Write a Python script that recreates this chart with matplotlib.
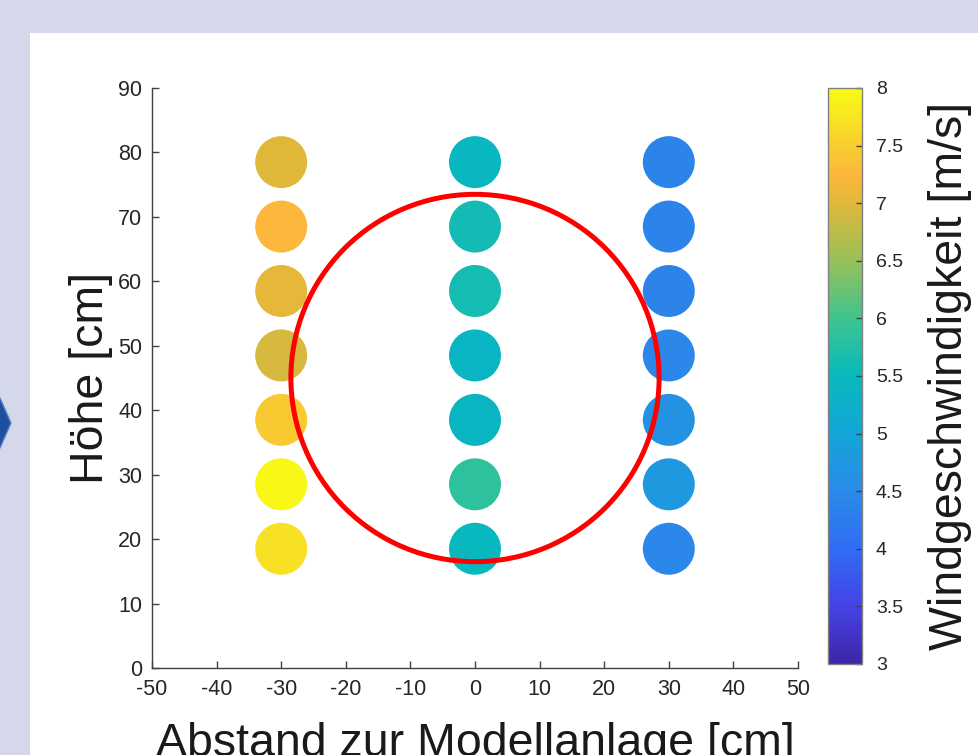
import numpy as np
import matplotlib
matplotlib.use("Agg")
import matplotlib.pyplot as plt
from matplotlib.colors import LinearSegmentedColormap, Normalize
from matplotlib.patches import Ellipse, Rectangle, Polygon

plt.rcParams['font.family'] = ['Liberation Sans', 'DejaVu Sans']
plt.rcParams['axes.unicode_minus'] = False

# measurement positions [cm] and wind speeds [m/s]
x_pos = [-30, 0, 30]
heights = [18.5, 28.5, 38.5, 48.5, 58.5, 68.5, 78.5]
speed_left = [7.7, 7.95, 7.45, 6.93, 7.05, 7.25, 7.0]
speed_mid = [5.48, 5.85, 5.4, 5.4, 5.62, 5.6, 5.45]
speed_right = [4.45, 4.75, 4.65, 4.45, 4.4, 4.4, 4.4]

# rotor circle (centre / radius in cm)
rotor_x, rotor_y, rotor_r = 0, 45, 28.5

x_ticks = np.arange(-50, 51, 10)
y_ticks = np.arange(0, 91, 10)
cb_ticks = np.arange(3, 8.01, 0.5)

# parula-like colormap
stops = [3.0, 3.5, 4.0, 4.5, 5.0, 5.5, 6.0, 6.5, 7.0, 7.25, 7.5, 8.0]
stop_cols = ['#3e26a8', '#4543e6', '#2f6df4', '#2b8ae9', '#13a6d6', '#07b9be',
             '#3ec48e', '#96c15a', '#dfb83a', '#fcb73c', '#f8cd30', '#f9fb14']
parula = LinearSegmentedColormap.from_list(
    'parula', list(zip([(s - 3) / 5 for s in stops], stop_cols)))
norm = Normalize(3, 8)

W, H = 979, 755
fig = plt.figure(figsize=(W / 100, H / 100), dpi=100)
fig.patch.set_facecolor('#d5d8eb')

# white slide panel + bit of the arrow at the left edge
fig.patches.append(Rectangle((30 / W, 0), 1, 1 - 33 / H, transform=fig.transFigure,
                             facecolor='white', edgecolor='none', zorder=-2))
fig.patches.append(Polygon([(-5 / W, 1 - 398 / H), (0 / W, 1 - 398 / H), (11 / W, 1 - 423 / H),
                            (0 / W, 1 - 448 / H), (-5 / W, 1 - 448 / H)],
                           transform=fig.transFigure, facecolor='#1f4f9e',
                           edgecolor='#5a86c8', lw=1, zorder=-2))

ax = fig.add_axes([152 / W, 1 - 668 / H, 646 / W, 580 / H])
ax.set_facecolor('none')

xs = np.repeat(x_pos, len(heights))
ys = np.tile(heights, len(x_pos))
vals = np.concatenate([speed_left, speed_mid, speed_right])
sc = ax.scatter(xs, ys, c=vals, cmap=parula, norm=norm, s=1400,
                edgecolors='none', zorder=2, clip_on=False)

ax.add_patch(Ellipse((rotor_x, rotor_y), 2 * rotor_r, 2 * rotor_r, fill=False,
                     edgecolor='#ff0000', lw=3.6, zorder=3))

ax.set_xlim(-50, 50)
ax.set_ylim(0, 90)
ax.set_xticks(x_ticks)
ax.set_yticks(y_ticks)
for s in ['top', 'right']:
    ax.spines[s].set_visible(False)
for s in ['left', 'bottom']:
    ax.spines[s].set_color('#404040')
    ax.spines[s].set_linewidth(1.0)
ax.tick_params(direction='in', length=5, width=1, color='#404040',
               labelcolor='#262626', labelsize=15.5)
ax.tick_params(axis='x', pad=8)
ax.tick_params(axis='y', pad=7)
ax.set_xlabel('Abstand zur Modellanlage [cm]', fontsize=33.5, color='#1a1a1a', labelpad=16)
ax.set_ylabel('Höhe [cm]', fontsize=33.5, color='#1a1a1a', labelpad=4)

cax = fig.add_axes([828 / W, 1 - 664 / H, 34 / W, 576 / H])
cb = fig.colorbar(sc, cax=cax, ticks=cb_ticks)
cb.ax.set_yticklabels([f'{t:g}' for t in cb_ticks])
cb.outline.set_edgecolor('#808080')
cb.outline.set_linewidth(1.0)
cb.ax.tick_params(direction='in', length=4, width=1, color='#404040',
                  labelcolor='#262626', labelsize=14, pad=10)
cb.set_label('Windgeschwindigkeit [m/s]', fontsize=33.5, color='#1a1a1a', labelpad=18)

fig.savefig('out.png', dpi=100, facecolor=fig.get_facecolor())
